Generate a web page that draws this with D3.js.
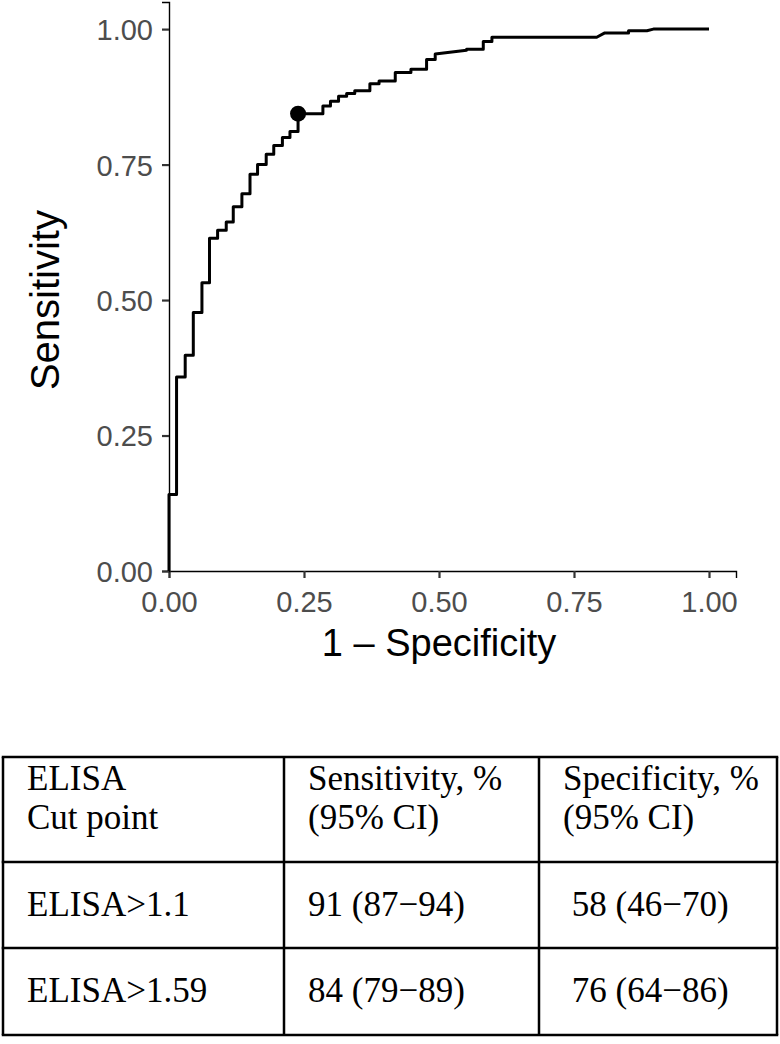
<!DOCTYPE html>
<html>
<head>
<meta charset="utf-8">
<script src="https://cdn.jsdelivr.net/npm/d3@7"></script>
<style>
  body { margin: 0; background: #fff; }
  svg { display: block; }
</style>
</head>
<body>
<div id="chart"></div>
<script>
// ROC curve corner points (1 - specificity, sensitivity)
const fpr = [0, 0, 0.014, 0.014, 0.030, 0.030, 0.045, 0.045, 0.061, 0.061,
  0.075, 0.075, 0.090, 0.090, 0.106, 0.106, 0.119, 0.119, 0.135, 0.135,
  0.150, 0.150, 0.164, 0.164, 0.180, 0.180, 0.194, 0.194, 0.210, 0.210,
  0.224, 0.224, 0.239, 0.239, 0.285, 0.285, 0.299, 0.299, 0.314, 0.314,
  0.329, 0.329, 0.344, 0.344, 0.372, 0.372, 0.389, 0.389, 0.419, 0.419,
  0.448, 0.448, 0.477, 0.477, 0.493, 0.493, 0.551, 0.551, 0.582, 0.582,
  0.598, 0.598, 0.792, 0.807, 0.851, 0.851, 0.885, 0.897, 1.0]
const tpr = [0, 0.141, 0.141, 0.358, 0.358, 0.398, 0.398, 0.477, 0.477, 0.532,
  0.532, 0.614, 0.614, 0.629, 0.629, 0.644, 0.644, 0.672, 0.672, 0.696,
  0.696, 0.732, 0.732, 0.750, 0.750, 0.769, 0.769, 0.785, 0.785, 0.800,
  0.800, 0.811, 0.811, 0.844, 0.844, 0.858, 0.858, 0.867, 0.867, 0.876,
  0.876, 0.881, 0.881, 0.886, 0.886, 0.899, 0.899, 0.904, 0.904, 0.920,
  0.920, 0.926, 0.926, 0.944, 0.944, 0.954, 0.961, 0.963, 0.963, 0.977,
  0.977, 0.985, 0.985, 0.993, 0.993, 0.997, 0.997, 1.0, 1.0]

// chosen cut point (ELISA > 1.59)
const cutFpr = 0.239
const cutTpr = 0.844

const tickValues = [0, 0.25, 0.5, 0.75, 1]

// table below the chart
const tableHeader = [['ELISA', 'Cut point'], ['Sensitivity, %', '(95% CI)'], ['Specificity, %', '(95% CI)']]
const tableRows = [
  ['ELISA>1.1', '91 (87\u221294)', ' 58 (46\u221270)'],
  ['ELISA>1.59', '84 (79\u221289)', ' 76 (64\u221286)']
]

const W = 780
const H = 1044
const sans = 'Liberation Sans, Arial, Helvetica, sans-serif'
const serif = 'Liberation Serif, Times New Roman, serif'

const svg = d3.select('#chart')
  .append('svg')
  .attr('width', W)
  .attr('height', H)

svg.append('rect').attr('width', W).attr('height', H).attr('fill', '#fff')

// **scales**
const x = d3.scaleLinear().domain([0, 1.05]).range([169, 736])
const y = d3.scaleLinear().domain([0, 1.05]).range([571, 2])

// **axes**
const xAxis = svg.append('g')
  .attr('transform', `translate(0,${y(0)})`)
  .call(d3.axisBottom(x).tickValues(tickValues).tickFormat(d3.format('.2f')).tickSize(7).tickPadding(13))

const yAxis = svg.append('g')
  .attr('transform', `translate(${x(0)},0)`)
  .call(d3.axisLeft(y).tickValues(tickValues).tickFormat(d3.format('.2f')).tickSize(7).tickPadding(9))

;[xAxis, yAxis].forEach(g => {
  g.select('.domain').attr('stroke', '#000').attr('stroke-width', 1.4)
  g.selectAll('.tick line').attr('stroke', '#333').attr('stroke-width', 2.2)
  g.selectAll('.tick text')
    .attr('fill', '#4d4d4d')
    .style('font-family', sans)
    .style('font-size', '29px')
})

xAxis.selectAll('.tick text').attr('dy', '0.71em')
yAxis.selectAll('.tick text').attr('dy', '0.36em')

// **curve**
const pts = fpr.map((f, i) => [f, tpr[i]])

svg.append('path')
  .datum(pts)
  .attr('fill', 'none')
  .attr('stroke', '#000')
  .attr('stroke-width', 3)
  .attr('stroke-linejoin', 'round')
  .attr('d', d3.line().x(d => x(d[0])).y(d => y(d[1])))

svg.append('circle')
  .attr('cx', x(cutFpr))
  .attr('cy', y(cutTpr))
  .attr('r', 8)
  .attr('fill', '#000')

// **axis titles**
svg.append('text')
  .attr('x', x(0.5))
  .attr('y', 656)
  .attr('text-anchor', 'middle')
  .style('font-family', sans)
  .style('font-size', '38px')
  .text('1 \u2013 Specificity')

svg.append('text')
  .attr('transform', `translate(59,${y(0.5)}) rotate(-90)`)
  .attr('text-anchor', 'middle')
  .style('font-family', sans)
  .style('font-size', '40px')
  .text('Sensitivity')

// **table**
const colX = [3, 284, 539, 777]
const rowY = [757, 862, 948, 1035]
const table = svg.append('g')

rowY.forEach(r => {
  table.append('line')
    .attr('x1', colX[0] - 1.25).attr('x2', colX[3] + 1.25)
    .attr('y1', r).attr('y2', r)
    .attr('stroke', '#000').attr('stroke-width', 2.5)
})
colX.forEach(c => {
  table.append('line')
    .attr('x1', c).attr('x2', c)
    .attr('y1', rowY[0]).attr('y2', rowY[3])
    .attr('stroke', '#000').attr('stroke-width', 2.5)
})

const cellText = (cx, cy, s) => table.append('text')
  .attr('x', cx)
  .attr('y', cy)
  .attr('xml:space', 'preserve')
  .style('white-space', 'pre')
  .style('font-family', serif)
  .style('font-size', '35px')
  .text(s)

tableHeader.forEach((lines, i) => {
  lines.forEach((s, j) => cellText(colX[i] + 24, 790 + j * 39, s))
})
tableRows.forEach((row, r) => {
  row.forEach((s, i) => cellText(colX[i] + 24, 916 + r * 86, s))
})
</script>
</body>
</html>
